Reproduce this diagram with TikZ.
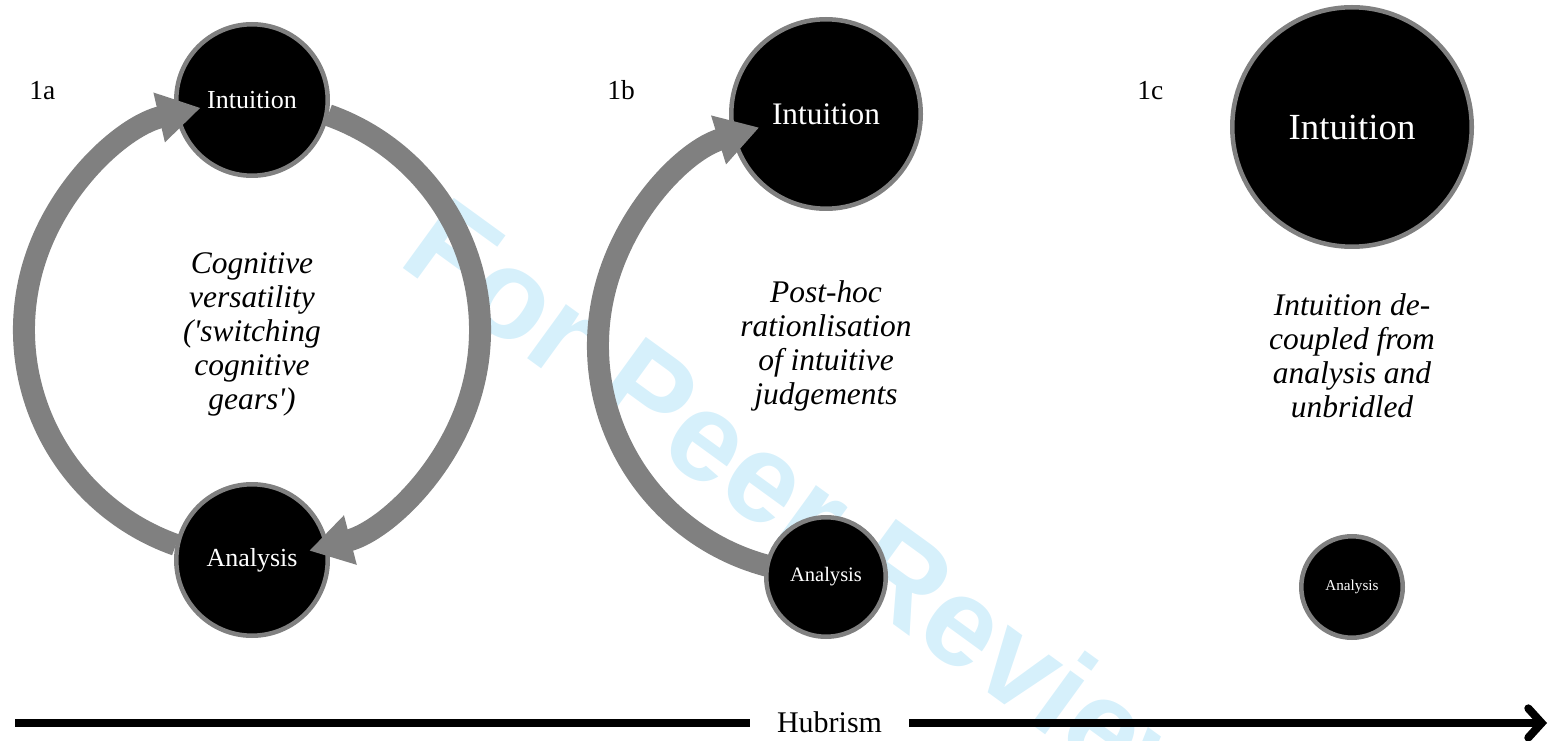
\documentclass[tikz,border=0pt]{standalone}
\usepackage{fontspec}
\setmainfont{Liberation Serif}
\newfontfamily\wmfont{Liberation Sans}
\usetikzlibrary{arrows.meta,calc}
\definecolor{wmblue}{RGB}{214,240,251}

\begin{document}
\begin{tikzpicture}[x=0.75pt,y=0.75pt,
  ball/.style={circle,fill=black,draw=gray,line width=3.4pt,inner sep=0pt,text=white},
  ring/.style={draw=gray,line width=16.5pt,-{Triangle[width=36pt,length=32pt]}},
  musing/.style={align=center,font=\itshape\fontsize{23.6}{25.5}\selectfont},
  panel/.style={anchor=base west,inner sep=0pt,font=\fontsize{20.6}{24}\selectfont}]

  \useasboundingbox (0,0) rectangle (1552,740);

  % Watermark
  \node[wmblue,rotate=-36,anchor=base west,inner sep=0pt,
        font=\wmfont\bfseries\fontsize{94.5}{94.5}\selectfont] (wm) at (396,477) {For Peer Review};

  % 1a: switching between the two
  \node[panel] (la) at (29,640) {1a};
  \node[ball,minimum size=113.6pt,font=\fontsize{19.5}{23}\selectfont] (intA) at (252,640) {Intuition};
  \node[ball,minimum size=113.6pt,font=\fontsize{19.5}{23}\selectfont] (anaA) at (252,180) {Analysis};
  \coordinate (cA) at ($(intA)!0.5!(anaA)$);
  \draw[ring] ([shift={(250.5:228)}]cA) arc[start angle=250.5, end angle=103, radius=228];
  \draw[ring] ([shift={(70.5:228)}]cA) arc[start angle=70.5, end angle=-75.5, radius=228];
  \node[musing] (txA) at (252,406) {Cognitive\\versatility\\(\textquotesingle switching\\cognitive\\gears\textquotesingle)};

  % 1b: analysis only follows
  \node[panel] (lb) at (607,640) {1b};
  \node[ball,minimum size=142.1pt,font=\fontsize{23.5}{28}\selectfont] (intB) at (826,626) {Intuition};
  \node[ball,minimum size=89.6pt,font=\fontsize{15.4}{18}\selectfont] (anaB) at (826,163) {Analysis};
  \coordinate (cB) at ($(intB)!0.5!(anaB)$);
  \draw[ring] ([shift={(255:228)}]cB) arc[start angle=255, end angle=107, radius=228];
  \node[musing] (txB) at (826,394) {Post-hoc\\rationlisation\\of intuitive\\judgements};

  % 1c: no link left
  \node[panel] (lc) at (1137,640) {1c};
  \node[ball,minimum size=179.6pt,font=\fontsize{27.6}{33}\selectfont] (intC) at (1352,613) {Intuition};
  \node[ball,minimum size=76.1pt,font=\fontsize{11.4}{14}\selectfont] (anaC) at (1352,153) {Analysis};
  \node[musing] (txC) at (1352,384) {Intuition de-\\coupled from\\analysis and\\unbridled};

  % Hubrism axis
  \coordinate (hubL) at (15,17);
  \coordinate (hubR) at (1547,17);
  \node[font=\fontsize{22.5}{26}\selectfont,text height=13.5pt,text depth=0pt,
        minimum width=119pt,inner xsep=0pt] (hub) at (829.5,17) {Hubrism};
  \draw[line width=6pt] (hubL) -- (hub);
  \draw[line width=6pt,-{Straight Barb[length=10pt,width=22pt,line cap=round]}] (hub) -- (hubR);

\end{tikzpicture}
\end{document}
